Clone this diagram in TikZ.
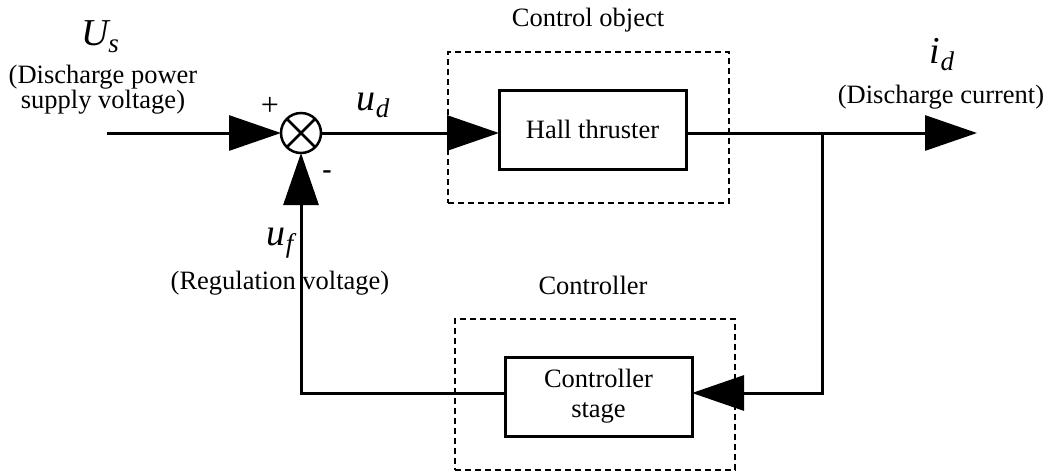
\documentclass[tikz,border=0pt]{standalone}
\usepackage{fontspec}
\setmainfont{Liberation Serif}
\usetikzlibrary{arrows.meta}
\tikzset{
  line/.style={line width=3pt},
  arr/.style={line width=3pt, -{Triangle[length=52pt,width=35pt]}},
  block/.style={draw, line width=3pt, minimum width=187pt, minimum height=79pt,
    font=\fontsize{26.5}{30}\selectfont, align=center, inner sep=0pt, outer sep=0pt},
  dbox/.style={draw, line width=2.5pt, dash pattern=on 6pt off 4pt, inner sep=0pt, outer sep=0pt},
  txt/.style={font=\fontsize{26.5}{25}\selectfont, align=center, inner sep=0pt},
  sumnode/.style={draw, circle, line width=2.5pt, minimum size=40pt, inner sep=0pt, outer sep=0pt},
}
\newcommand{\mlab}[2]{{\fontsize{38}{40}\selectfont\itshape #1}\raisebox{-7pt}{\fontsize{27}{27}\selectfont\itshape #2}}
\begin{document}
\begin{tikzpicture}[x=1pt,y=-1pt]
\useasboundingbox (0,0) rectangle (1059,472);
% dashed frames
\node[dbox, minimum width=281pt, minimum height=151pt] (cobj) at (588.5,127.5) {};
\node[dbox, minimum width=280pt, minimum height=151pt] (cctl) at (595,394.5) {};
% blocks
\node[block] (hall) at (592.5,129.5) {Hall thruster};
\node[block] (ctrl) at (598.5,396.5) {Controller\\stage};
\node[sumnode] (sum) at (301,133) {};
\draw[line width=2.5pt] (sum.north east) -- (sum.south west) (sum.north west) -- (sum.south east);
% coordinates
\coordinate (in) at (107,133);
\coordinate (jn) at (822,133);
\coordinate (out) at (977,133);
\coordinate (fbR) at (822,393);
% connectors
\draw[arr] (in) -- (sum.west);
\draw[arr] (sum.east) -- (sum.east -| hall.west);
\draw[arr] (hall.east |- jn) -- (out);
\draw[arr] (jn) -- (fbR) -- (fbR -| ctrl.east);
\draw[arr] (fbR -| ctrl.west) -| (sum.south);
% labels
\node[inner sep=0pt] (us) at (100,37) {\mlab{U}{s}};
\node[txt] (uslab) at (103,90) {(Discharge power\\supply voltage)};
\node[inner sep=0pt, font=\fontsize{32}{32}\selectfont] (plus) at (270,106) {+};
\node[inner sep=0pt, font=\fontsize{28}{28}\selectfont\bfseries] (minus) at (327,175) {-};
\node[inner sep=0pt] (ud) at (373,105) {\mlab{u}{d}};
\node[txt] (cotitle) at (588,20) {Control object};
\node[inner sep=0pt] (id) at (942,55) {\mlab{i}{d}};
\node[txt] (idlab) at (941,97) {(Discharge current)};
\node[inner sep=0pt] (uf) at (280,243) {\mlab{u}{f}};
\node[txt] (uflab) at (280,283) {(Regulation voltage)};
\node[txt] (cttitle) at (593,285) {Controller};
\end{tikzpicture}
\end{document}
